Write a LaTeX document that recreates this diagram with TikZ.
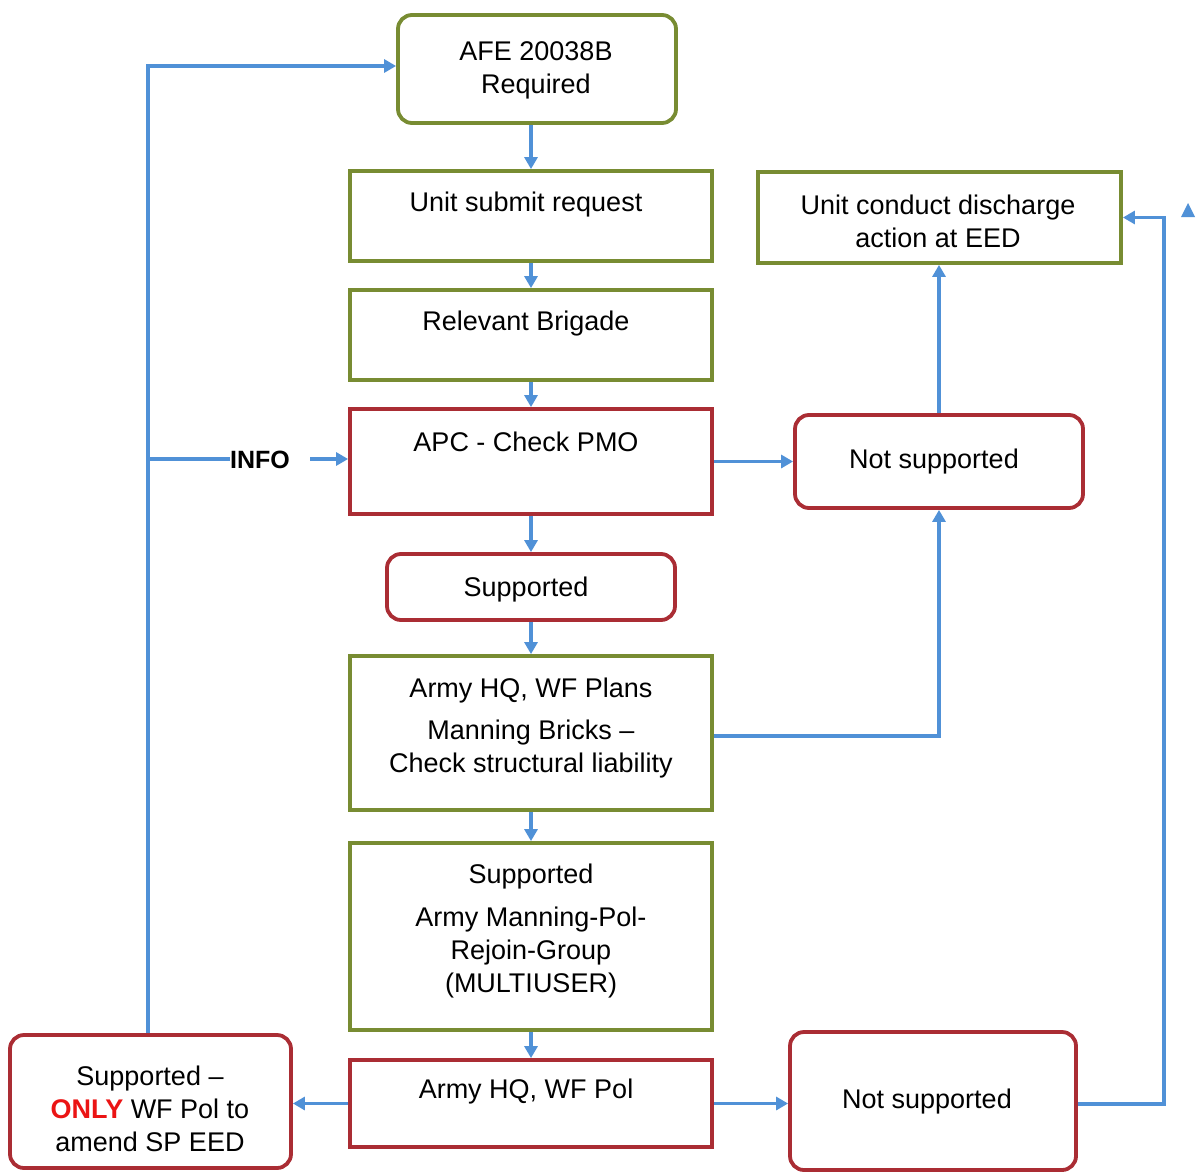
\documentclass[tikz,border=0pt]{standalone}
\usepackage{fontspec}
\setmainfont{Liberation Sans}
\usetikzlibrary{arrows.meta}
\definecolor{olivebox}{RGB}{120,140,50}
\definecolor{redbox}{RGB}{170,45,52}
\definecolor{flowblue}{RGB}{80,145,215}
\definecolor{onlyred}{RGB}{235,20,20}
\begin{document}
\begin{tikzpicture}[x=1pt,y=-1pt,
  every node/.style={font=\fontsize{27}{33}\selectfont, text=black},
  gbox/.style={draw=olivebox, line width=3.8pt, inner sep=0pt, fill=white},
  rbox/.style={draw=redbox, line width=3.8pt, inner sep=0pt, fill=white},
  rounded/.style={rounded corners=14pt},
  txt/.style={align=center, inner sep=0pt},
  arr/.style={draw=flowblue, line width=3.5pt, -{Triangle[length=12pt,width=13pt]}},
  ln/.style={draw=flowblue, line width=3.5pt}
]
\useasboundingbox[fill=white] (0,0) rectangle (1196,1172);

% boxes
\node[gbox, rounded, minimum width=278pt, minimum height=108pt] (afe) at (537,69) {};
\node[gbox, minimum width=362pt, minimum height=90pt] (usr) at (531,216) {};
\node[gbox, minimum width=362pt, minimum height=90pt] (brig) at (531,335) {};
\node[rbox, minimum width=362pt, minimum height=105pt] (apc) at (531,461.5) {};
\node[rbox, rounded, minimum width=288pt, minimum height=66pt] (sup) at (531,587) {};
\node[gbox, minimum width=362pt, minimum height=154pt] (plans) at (531,733) {};
\node[gbox, minimum width=362pt, minimum height=187pt] (mann) at (531,936.5) {};
\node[rbox, minimum width=362pt, minimum height=87pt] (pol) at (531,1103.5) {};
\node[rbox, rounded, minimum width=281pt, minimum height=133pt] (only) at (150.5,1101.5) {};
\node[rbox, rounded, minimum width=286pt, minimum height=138pt] (nsb) at (933,1101) {};
\node[gbox, minimum width=363pt, minimum height=91pt] (ucd) at (939.5,217.5) {};
\node[rbox, rounded, minimum width=288pt, minimum height=93pt] (nst) at (939,461.5) {};

% texts
\node[txt] (afet) at (536,70) {AFE 20038B\\Required};
\node[txt] (usrt) at (526,205) {Unit submit request};
\node[txt] (brigt) at (526,324) {Relevant Brigade};
\node[txt] (apct) at (526,442) {APC - Check PMO};
\node[txt] (supt) at (526,590) {Supported};
\node[txt] (planst) at (531,728) {Army HQ, WF Plans\\[9pt]Manning Bricks –\\Check structural liability};
\node[txt] (mannt) at (531,931) {Supported\\[9pt]Army Manning-Pol-\\Rejoin-Group\\(MULTIUSER)};
\node[txt] (polt) at (526,1092) {Army HQ, WF Pol};
\node[txt] (onlyt) at (150,1109) {Supported –\\{\color{onlyred}\bfseries ONLY} WF Pol to\\amend SP EED};
\node[txt] (nsbt) at (927,1102) {Not supported};
\node[txt] (ucdt) at (938,221.5) {Unit conduct discharge\\action at EED};
\node[txt] (nstt) at (934,462) {Not supported};
\node[txt, font=\fontsize{25}{30}\selectfont\bfseries] (info) at (260,460) {INFO};

% vertical chain
\draw[arr] (afe.south -| usr.north) -- (usr.north);
\draw[arr] (usr.south) -- (brig.north);
\draw[arr] (brig.south) -- (apc.north);
\draw[arr] (apc.south) -- (sup.north);
\draw[arr] (sup.south) -- (plans.north);
\draw[arr] (plans.south) -- (mann.north);
\draw[arr] (mann.south) -- (pol.north);

% side branches
\draw[arr] (pol.west) -- (only.east |- pol.west);
\draw[arr] (pol.east) -- (nsb.west |- pol.east);
\draw[arr] (apc.east) -- (nst.west |- apc.east);
\draw[arr] (nst.north) -- (nst.north |- ucd.south);
\draw[arr] ([yshift=-3pt]plans.east) -| (nst.south);
\draw[arr] ([yshift=-3pt]nsb.east) -- ++(86,0) coordinate (rc) |- (ucd.east);

% left feedback loop
\coordinate (lt) at (148,66);
\coordinate (lm) at (148,459);
\draw[arr] (only.north -| lm) -- (lt) -- (afe.west |- lt);
\draw[ln] (lm) -- (lm -| info.west);
\draw[arr] ([xshift=20pt]info.east |- lm) -- (apc.west |- lm);

% small arrow-tip fragment at top right
\fill[flowblue] (1181,217) -- (1195,217) -- (1188,203) -- cycle;
\end{tikzpicture}
\end{document}
